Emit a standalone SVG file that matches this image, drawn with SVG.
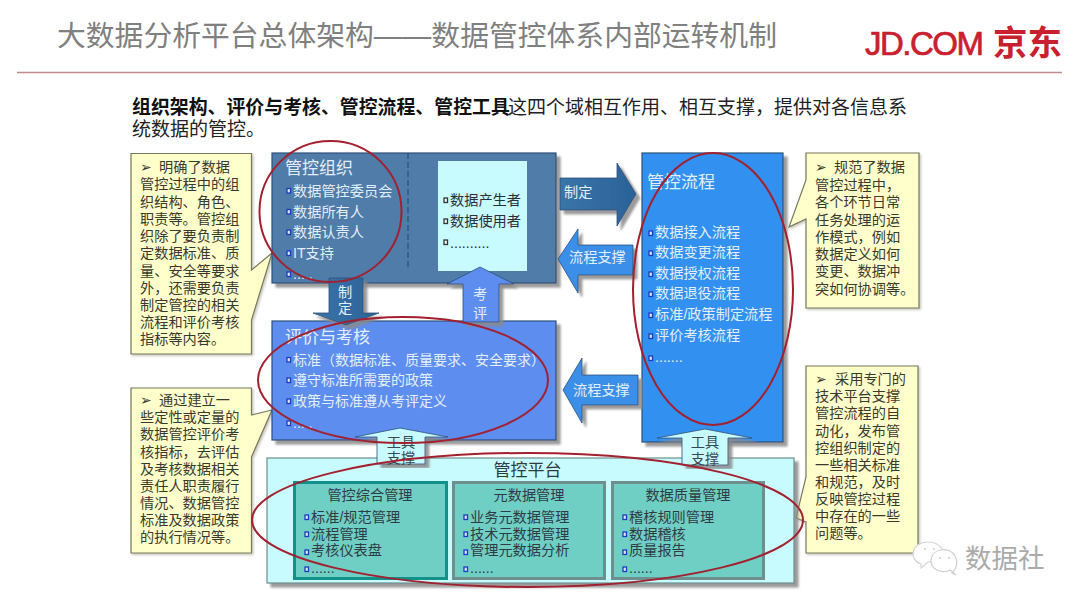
<svg xmlns="http://www.w3.org/2000/svg" width="1080" height="607" viewBox="0 0 1080 607">
<defs>
<filter id="sh" x="-10%" y="-10%" width="120%" height="120%"><feDropShadow dx="4" dy="4" stdDeviation="0.8" flood-color="#8a8a8a" flood-opacity="0.85"/></filter>
<filter id="shs" x="-5%" y="-5%" width="110%" height="110%"><feDropShadow dx="1.500" dy="1.500" stdDeviation="0.8" flood-color="#b0b0a0" flood-opacity="0.7"/></filter>
<linearGradient id="gDark" x1="0" y1="0" x2="1" y2="0"><stop offset="0" stop-color="#3a75a8"/><stop offset="1" stop-color="#2a6298"/></linearGradient>
</defs>
<style>
text{font-family:"Liberation Sans","Noto Sans CJK SC",sans-serif}
.t14{font-size:14.2px}
.t17{font-size:17px}
.light{fill:#e4eef8}
.dark{fill:#2f3b44}
.call{fill:#ffffcc;stroke:#77775c;stroke-width:1.2;filter:url(#shs)}
.calltext{font-size:14.2px;fill:#3a3a2c}
.box{stroke:#2d4f78;stroke-width:1.2;filter:url(#sh)}
.b{fill:#dfe8f8;stroke:#1a3cc0;stroke-width:1.3}
.bk{fill:#eefcfc;stroke:#333;stroke-width:1.3}
.ring{fill:none;stroke:#a3202f;stroke-width:2}
.arrow{stroke:#2d4f78;stroke-width:0.8;filter:url(#sh)}
.plat{fill:#6fcfc4;stroke-width:3}
</style>
<rect width="1080" height="607" fill="#ffffff"/>
<g id="header">
<text x="57" y="46" font-size="28.8" fill="#808080">大数据分析平台总体架构——数据管控体系内部运转机制</text>
<line x1="17" y1="72.500" x2="1062" y2="72.500" stroke="#c28a8a" stroke-width="1.5"/>
<text x="865" y="55" font-size="33" letter-spacing="-1.5" fill="#c8202f" stroke="#c8202f" stroke-width="0.7">JD.COM</text>
<text x="993" y="55" font-size="34.500" font-weight="700" fill="#c8202f">京东</text>
<text x="132" y="114" font-size="18.900" font-weight="700" fill="#111">组织架构、评价与考核、管控流程、管控工具</text>
<text x="508" y="114" font-size="19" fill="#222">这四个域相互作用、相互支撑，提供对各信息系</text>
<text x="132" y="136" font-size="19" fill="#222">统数据的管控。</text>
</g>
<g id="callout-org">
<path class="call" d="M131 153.500H251.500V270L272 253L251.500 320V354H131Z"/>
<text class="calltext"><tspan x="140" y="172">➢</tspan><tspan x="159" y="172">明确了数据</tspan><tspan x="140" y="189">管控过程中的组</tspan><tspan x="140" y="206.500">织结构、角色、</tspan><tspan x="140" y="224">职责等。管控组</tspan><tspan x="140" y="241">织除了要负责制</tspan><tspan x="140" y="258">定数据标准、质</tspan><tspan x="140" y="275.500">量、安全等要求</tspan><tspan x="140" y="292.500">外，还需要负责</tspan><tspan x="140" y="309.500">制定管控的相关</tspan><tspan x="140" y="327">流程和评价考核</tspan><tspan x="140" y="344">指标等内容。</tspan></text>
</g>
<g id="callout-eval">
<path class="call" d="M131 388H251.500V415L272 410L251.500 457V553H131Z"/>
<text class="calltext"><tspan x="140" y="404.500">➢</tspan><tspan x="159" y="404.500">通过建立一</tspan><tspan x="140" y="422">些定性或定量的</tspan><tspan x="140" y="439">数据管控评价考</tspan><tspan x="140" y="456.500">核指标，去评估</tspan><tspan x="140" y="473.500">及考核数据相关</tspan><tspan x="140" y="491">责任人职责履行</tspan><tspan x="140" y="508">情况、数据管控</tspan><tspan x="140" y="525">标准及数据政策</tspan><tspan x="140" y="542">的执行情况等。</tspan></text>
</g>
<g id="callout-flow">
<path class="call" d="M806 153H919V308H806V219L789 227L806 180Z"/>
<text class="calltext"><tspan x="815" y="172">➢</tspan><tspan x="834" y="172">规范了数据</tspan><tspan x="815" y="189.500">管控过程中，</tspan><tspan x="815" y="207">各个环节日常</tspan><tspan x="815" y="224.500">任务处理的运</tspan><tspan x="815" y="241.500">作模式，例如</tspan><tspan x="815" y="259">数据定义如何</tspan><tspan x="815" y="276">变更、数据冲</tspan><tspan x="815" y="293.500">突如何协调等。</tspan></text>
</g>
<g id="callout-tool">
<path class="call" d="M806 366H918V553H806V522L796 518L806 477Z"/>
<text class="calltext"><tspan x="815" y="384">➢</tspan><tspan x="835" y="384">采用专门的</tspan><tspan x="815" y="401">技术平台支撑</tspan><tspan x="815" y="418">管控流程的自</tspan><tspan x="815" y="435.500">动化，发布管</tspan><tspan x="815" y="452.500">控组织制定的</tspan><tspan x="815" y="469.500">一些相关标准</tspan><tspan x="815" y="487">和规范，及时</tspan><tspan x="815" y="504">反映管控过程</tspan><tspan x="815" y="521">中存在的一些</tspan><tspan x="815" y="538">问题等。</tspan></text>
</g>
<g id="node-org">
<rect class="box" x="272" y="153" width="284" height="130" fill="#4f7ba8"/>
<line x1="408" y1="153" x2="408" y2="269" stroke="#24507e" stroke-width="1.2" stroke-dasharray="6 3"/>
<rect x="438" y="161" width="89" height="110" fill="#c8fbfd"/>
<text class="t17 light" x="285" y="174">管控组织</text>
<g class="t14 light">
<text x="293" y="196">数据管控委员会</text><text x="293" y="217">数据所有人</text><text x="293" y="237">数据认责人</text><text x="293" y="258">IT支持</text><text x="293" y="279">.....</text>
</g>
<g><rect class="b" x="287" y="188.500" width="3.500" height="4.500"/><rect class="b" x="287" y="209.500" width="3.500" height="4.500"/><rect class="b" x="287" y="230" width="3.500" height="4.500"/><rect class="b" x="287" y="251" width="3.500" height="4.500"/><rect class="b" x="287" y="272" width="3.500" height="4.500"/></g>
<g class="t14" fill="#2a3036"><text x="450" y="205">数据产生者</text><text x="450" y="226">数据使用者</text><text x="450" y="248">..........</text></g>
<rect class="bk" x="444" y="198" width="3.500" height="4.500"/><rect class="bk" x="444" y="219" width="3.500" height="4.500"/><rect class="bk" x="444" y="240" width="3.500" height="4.500"/>
</g>
<g id="node-eval">
<rect class="box" x="272" y="321" width="284" height="119" fill="#5b8def"/>
<text class="t17 light" x="285" y="343">评价与考核</text>
<g font-size="14" class="light"><text x="293" y="365">标准（数据标准、质量要求、安全要求）</text><text x="293" y="385">遵守标准所需要的政策</text><text x="293" y="406">政策与标准遵从考评定义</text><text x="293" y="428">.....</text></g>
<g><rect class="b" x="287" y="357.500" width="3.500" height="4.500"/><rect class="b" x="287" y="378" width="3.500" height="4.500"/><rect class="b" x="287" y="399" width="3.500" height="4.500"/><rect class="b" x="287" y="421" width="3.500" height="4.500"/></g>
</g>
<g id="node-flow">
<rect class="box" x="642" y="153" width="141" height="289" fill="#3391f0" stroke="#2d6fb8"/>
<text class="t17 light" x="647" y="188">管控流程</text>
<g class="t14 light"><text x="655" y="237">数据接入流程</text><text x="655" y="257">数据变更流程</text><text x="655" y="278">数据授权流程</text><text x="655" y="298">数据退役流程</text><text x="655" y="319">标准/政策制定流程</text><text x="655" y="340">评价考核流程</text><text x="655" y="362">.......</text></g>
<g><rect class="b" x="649" y="231" width="3.500" height="4.500"/><rect class="b" x="649" y="251" width="3.500" height="4.500"/><rect class="b" x="649" y="272" width="3.500" height="4.500"/><rect class="b" x="649" y="292" width="3.500" height="4.500"/><rect class="b" x="649" y="313" width="3.500" height="4.500"/><rect class="b" x="649" y="334" width="3.500" height="4.500"/><rect class="b" x="649" y="356" width="3.500" height="4.500"/></g>
</g>
<g id="node-platform">
<rect x="267" y="458" width="527" height="125" fill="#c8fbfd" stroke="#6f8f8f" stroke-width="1.2" filter="url(#sh)"/>
<text class="t17 dark" x="527.500" y="476" text-anchor="middle">管控平台</text>
</g>
<g id="node-mgmt">
<rect class="plat" x="294.500" y="482.500" width="152" height="96" stroke="#12908a"/>
<text class="t14 dark" x="370" y="500" text-anchor="middle">管控综合管理</text>
<g class="t14 dark"><text x="311" y="522">标准/规范管理</text><text x="311" y="539">流程管理</text><text x="311" y="555">考核仪表盘</text><text x="311" y="573">......</text></g>
<g><rect class="b" x="305" y="515" width="3.500" height="4.500"/><rect class="b" x="305" y="532" width="3.500" height="4.500"/><rect class="b" x="305" y="550" width="3.500" height="4.500"/><rect class="b" x="305" y="567" width="3.500" height="4.500"/></g>
</g>
<g id="node-meta">
<rect class="plat" x="453.500" y="482.500" width="151" height="96" stroke="#6f8f8f"/>
<text class="t14 dark" x="529" y="500" text-anchor="middle">元数据管理</text>
<g class="t14 dark"><text x="470" y="522">业务元数据管理</text><text x="470" y="539">技术元数据管理</text><text x="470" y="555">管理元数据分析</text><text x="470" y="573">......</text></g>
<g><rect class="b" x="464" y="515" width="3.500" height="4.500"/><rect class="b" x="464" y="532" width="3.500" height="4.500"/><rect class="b" x="464" y="550" width="3.500" height="4.500"/><rect class="b" x="464" y="567" width="3.500" height="4.500"/></g>
</g>
<g id="node-quality">
<rect class="plat" x="612.500" y="482.500" width="151" height="96" stroke="#6f8f8f"/>
<text class="t14 dark" x="688" y="500" text-anchor="middle">数据质量管理</text>
<g class="t14 dark"><text x="629" y="522">稽核规则管理</text><text x="629" y="539">数据稽核</text><text x="629" y="555">质量报告</text><text x="629" y="573">......</text></g>
<g><rect class="b" x="623" y="515" width="3.500" height="4.500"/><rect class="b" x="623" y="532" width="3.500" height="4.500"/><rect class="b" x="623" y="550" width="3.500" height="4.500"/><rect class="b" x="623" y="567" width="3.500" height="4.500"/></g>
</g>
<g id="connectors">
<path class="arrow" fill="url(#gDark)" d="M560 178H617V163L636 194L617 226V210H560Z"/>
<text class="t14 light" x="564" y="197">制定</text>
<path class="arrow" fill="#3b8fe8" d="M558 259L578 229V245H633V275H578V293Z"/>
<text class="t14 light" x="569" y="262">流程支撑</text>
<path class="arrow" fill="#3b8fe8" d="M563 390L582 358V375H638V405H582V423Z"/>
<text class="t14 light" x="573" y="395">流程支撑</text>
<path class="arrow" fill="#5b8def" d="M480 267L514 284H499V322H463V284H447Z"/>
<g class="t14 light" text-anchor="middle"><text x="480" y="299">考</text><text x="480" y="318">评</text></g>
<path class="arrow" fill="url(#gDark)" d="M329 278H363V313H379L346 325L313 313H329Z"/>
<g class="t14 light" text-anchor="middle"><text x="345" y="297">制</text><text x="345" y="313">定</text></g>
<path class="arrow" fill="#c8fbfd" d="M400 428L448 437H425V464H377V437H355Z"/>
<g class="t14" fill="#3c4850" text-anchor="middle"><text x="401" y="447">工具</text><text x="401" y="463">支撑</text></g>
<path class="arrow" fill="#c8fbfd" d="M705 429L752 438H728V465H682V438H657Z"/>
<g class="t14" fill="#3c4850" text-anchor="middle"><text x="705" y="447">工具</text><text x="705" y="464">支撑</text></g>
</g>
<g id="highlights">
<ellipse class="ring" cx="330.500" cy="211.500" rx="71" ry="70.500"/>
<ellipse class="ring" cx="403" cy="380" rx="145" ry="63"/>
<ellipse class="ring" cx="713" cy="289" rx="80" ry="136"/>
<ellipse class="ring" cx="527.500" cy="520" rx="275.500" ry="67"/>
</g>
<g id="watermark">
<path d="M921 564C908 560 911 542 928 542C940 542 947 552 942 559L928 562L921 568Z" fill="#ffffff" stroke="#d4d4d4" stroke-width="1.2"/>
<path d="M952 573C957 568 958 562 955 556C950 546 932 548 931 560C930 570 943 574 950 570L956 575Z" fill="#ffffff" stroke="#d0d0d0" stroke-width="1.2"/>
<circle cx="925" cy="549" r="1" fill="#cfcfcf"/><circle cx="934" cy="549" r="1" fill="#cfcfcf"/><circle cx="940" cy="558" r="1" fill="#cfcfcf"/><circle cx="949" cy="558" r="1" fill="#cfcfcf"/>
<text x="965" y="568" font-size="26.500" fill="#ababab">数据社</text>
</g>
</svg>
